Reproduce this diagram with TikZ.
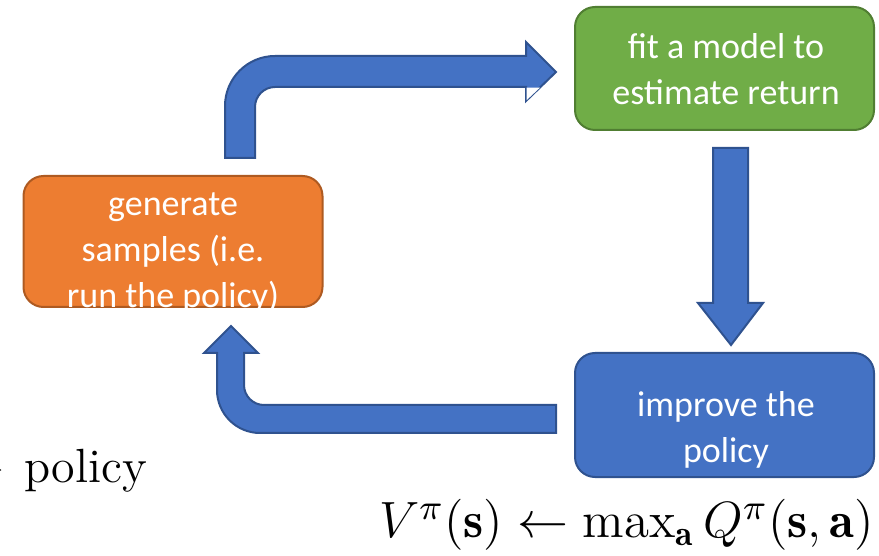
\RequirePackage{fix-cm}
\documentclass[tikz,border=0pt]{standalone}
\usepackage{fontspec}
\usepackage{amsmath}
\newfontfamily\calibri{Carlito}
\definecolor{boxorange}{HTML}{ED7D31}
\definecolor{boxorangeline}{HTML}{AE5A21}
\definecolor{boxgreen}{HTML}{70AD47}
\definecolor{boxgreenline}{HTML}{507E32}
\definecolor{boxblue}{HTML}{4472C4}
\definecolor{boxblueline}{HTML}{2F528F}
\tikzset{
  stepbox/.style={rectangle, rounded corners=5pt, line width=0.5pt,
    inner sep=0pt, minimum width=74.75pt},
  boxtext/.style={text=white, align=center, inner sep=0pt,
    font=\calibri\fontsize{9}{11.6}\selectfont},
  blockarrow/.style={fill=boxblue, draw=boxblueline, line width=0.5pt,
    line join=miter},
}
\begin{document}
\begin{tikzpicture}[x=0.25pt, y=-0.25pt]
\useasboundingbox (0,0) rectangle (879,556);

% the three stages of the loop
\node[stepbox, fill=boxorange, draw=boxorangeline, minimum height=32.75pt]
  (gen) at (173,241.5) {};
\node[stepbox, fill=boxgreen, draw=boxgreenline, minimum height=30.75pt]
  (fit) at (724.5,68.5) {};
\node[stepbox, fill=boxblue, draw=boxblueline, minimum height=31pt]
  (imp) at (724.5,415) {};

% block arrow: generate -> fit (bent up and to the right)
\draw[blockarrow] (225,158) -- (225,106)
  .. controls (225,78.4) and (247.4,56) .. (275,56)
  -- (526,56) -- (526,42) -- (556,72) -- (526,101) -- (526,87)
  -- (275,87) .. controls (264,87) and (255,96) .. (255,107)
  -- (255,158) -- cycle;
\fill[white] (526.6,87.6) -- (540,87.6) -- (526.6,100.2) -- cycle;

% block arrow: fit -> improve (straight down)
\draw[blockarrow] (713,148) -- (748,148) -- (748,303) -- (763,303)
  -- (731,345) -- (698,303) -- (713,303) -- cycle;

% block arrow: improve -> generate (left, then up)
\draw[blockarrow] (556,405) -- (264,405)
  .. controls (253,405) and (244,396) .. (244,385)
  -- (244,353) -- (258,353) -- (231,326) -- (204,353) -- (217,353)
  -- (217,390) .. controls (217,413.7) and (236.3,433) .. (260,433)
  -- (556,433) -- cycle;

% stage labels (anchored at the baseline of their last line)
\node[boxtext, anchor=base] (gentext) at (173,308)
  {generate\\samples (i.e.\\run the policy)};
\node[boxtext, anchor=base] (fittext) at (726,105)
  {fit a model to\\estimate return};
\node[boxtext, anchor=base] (imptext) at (726,462.5)
  {improve the\\policy};

% surrounding formulas
\node[anchor=base east, inner sep=0pt, font=\fontsize{12}{14}\selectfont]
  (pol) at (148,483) {$\rightarrow$\hspace{0.42em}policy};
\node[anchor=base east, inner sep=0pt, font=\fontsize{12.75}{15}\selectfont]
  (bell) at (875,538)
  {$V^\pi(\mathbf{s}) \leftarrow \max_{\mathbf{a}} Q^\pi(\mathbf{s},\mathbf{a})$};
\end{tikzpicture}
\end{document}
